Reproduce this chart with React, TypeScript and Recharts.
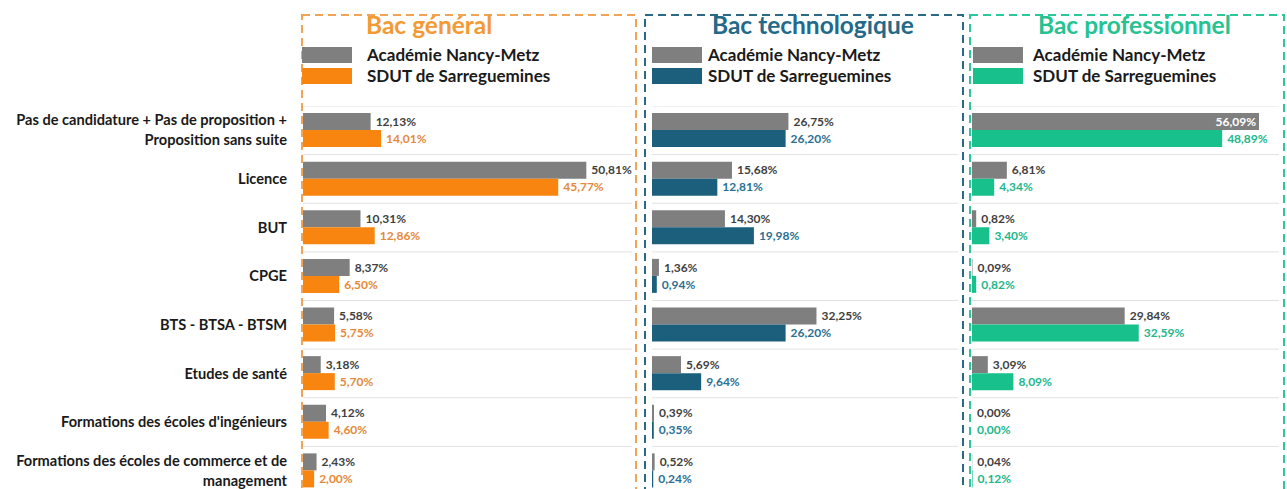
import { BarChart, Bar, XAxis, YAxis, CartesianGrid, LabelList } from 'recharts';

const categories = [
  'Pas de candidature + Pas de proposition + Proposition sans suite',
  'Licence',
  'BUT',
  'CPGE',
  'BTS - BTSA - BTSM',
  'Etudes de santé',
  "Formations des écoles d'ingénieurs",
  'Formations des écoles de commerce et de management',
];

// tick labels as they wrap on the left axis
const categoryLines = [
  ['Pas de candidature + Pas de proposition +', 'Proposition sans suite'],
  ['Licence'],
  ['BUT'],
  ['CPGE'],
  ['BTS - BTSA - BTSM'],
  ['Etudes de santé'],
  ["Formations des écoles d'ingénieurs"],
  ['Formations des écoles de commerce et de', 'management'],
];

const seriesNames = ['Académie Nancy-Metz', 'SDUT de Sarreguemines'];
const panelTitles = ['Bac général', 'Bac technologique', 'Bac professionnel'];

const generalAcademie = [12.13, 50.81, 10.31, 8.37, 5.58, 3.18, 4.12, 2.43];
const generalSdut = [14.01, 45.77, 12.86, 6.5, 5.75, 5.7, 4.6, 2.0];
const technoAcademie = [26.75, 15.68, 14.3, 1.36, 32.25, 5.69, 0.39, 0.52];
const technoSdut = [26.2, 12.81, 19.98, 0.94, 26.2, 9.64, 0.35, 0.24];
const proAcademie = [56.09, 6.81, 0.82, 0.09, 29.84, 3.09, 0.0, 0.04];
const proSdut = [48.89, 4.34, 3.4, 0.82, 32.59, 8.09, 0.0, 0.12];

const FONT = 'Lato, "Open Sans", sans-serif';
const GRAY = '#7f7f7f';
const GRAY_TEXT = '#3f3f3f';
const PLOT_TOP = 106;
const PLOT_HEIGHT = 389;
const AXIS_WIDTH = 303;

const panels = [
  {
    title: panelTitles[0],
    academie: generalAcademie,
    sdut: generalSdut,
    color: '#f7850f',
    labelColor: '#e5893a',
    titleColor: '#f39a35',
    border: '#f2a456',
    maxX: 59,
    plotLeft: 303,
    plotWidth: 329,
    boxLeft: 302,
    boxRight: 636,
    swatchLeft: 302,
    textLeft: 367,
    titleLeft: 366,
  },
  {
    title: panelTitles[1],
    academie: technoAcademie,
    sdut: technoSdut,
    color: '#1c5f7d',
    labelColor: '#2b7093',
    titleColor: '#236a8a',
    border: '#2b6a87',
    maxX: 60,
    plotLeft: 652,
    plotWidth: 306,
    boxLeft: 645,
    boxRight: 963,
    swatchLeft: 652,
    textLeft: 708,
    titleLeft: 712,
  },
  {
    title: panelTitles[2],
    academie: proAcademie,
    sdut: proSdut,
    color: '#18c08c',
    labelColor: '#21b78b',
    titleColor: '#27c291',
    border: '#2cc79a',
    maxX: 60,
    plotLeft: 972,
    plotWidth: 307,
    boxLeft: 970,
    boxRight: 1284,
    swatchLeft: 973,
    textLeft: 1033,
    titleLeft: 1038,
  },
];

function fmt(v: number) {
  return v.toFixed(2).replace('.', ',') + '%';
}

// grid lines between categories, not through them
function bandEdges(props: any): number[] {
  const scale = props?.yAxis?.scale;
  if (typeof scale === 'function' && typeof scale.bandwidth === 'function') {
    const starts = categories.map((c) => scale(c) as number);
    if (starts.every((s) => typeof s === 'number' && !isNaN(s))) {
      return [...starts, starts[starts.length - 1] + scale.bandwidth()];
    }
  }
  const { top, height } = props.offset;
  return categories.map((_, i) => top + (i * height) / categories.length).concat(top + height);
}

function CategoryTick(props: any) {
  const { x, y, payload } = props;
  const idx = categories.indexOf(payload.value);
  const lines = categoryLines[idx] ?? [payload.value];
  const lh = 20;
  const start = -((lines.length - 1) * lh) / 2;
  return (
    <text x={x} y={y} textAnchor="end" fontFamily={FONT} fontSize={14.6} fontWeight={700} fill="#1a1a1a">
      {lines.map((l, i) => (
        <tspan key={i} x={x} y={y + start + i * lh} dy="0.35em">
          {l}
        </tspan>
      ))}
    </text>
  );
}

function valueLabel(color: string, maxX: number) {
  return (props: any) => {
    const vb = props.viewBox ?? props;
    const x = vb.x ?? props.x;
    const y = vb.y ?? props.y;
    const w = vb.width ?? props.width ?? 0;
    const h = vb.height ?? props.height ?? 0;
    const v = Number(props.value);
    const inside = v > maxX * 0.9;
    return (
      <text
        x={inside ? x + w - 3 : x + w + 5}
        y={y + h / 2}
        dy="0.35em"
        textAnchor={inside ? 'end' : 'start'}
        fontFamily={FONT}
        fontSize={12}
        fontWeight={700}
        fill={inside ? '#ffffff' : color}
      >
        {fmt(v)}
      </text>
    );
  };
}

function Panel({ p, first }: { p: (typeof panels)[number]; first: boolean }) {
  const data = categories.map((name, i) => ({ name, academie: p.academie[i], sdut: p.sdut[i] }));
  const left = first ? 0 : p.plotLeft;
  const width = first ? p.plotLeft + p.plotWidth : p.plotWidth;
  return (
    <div style={{ position: 'absolute', left, top: PLOT_TOP, width, height: PLOT_HEIGHT }}>
      <BarChart
        layout="vertical"
        width={width}
        height={PLOT_HEIGHT}
        data={data}
        margin={{ top: 0, right: 0, bottom: 0, left: 0 }}
        barSize={17}
        barGap={0}
      >
        <CartesianGrid vertical={false} stroke="#e2e2e2" horizontalCoordinatesGenerator={bandEdges} />
        <XAxis type="number" domain={[0, p.maxX]} hide allowDataOverflow />
        {first ? (
          <YAxis
            type="category"
            dataKey="name"
            width={AXIS_WIDTH}
            axisLine={false}
            tickLine={false}
            tickSize={0}
            tickMargin={16}
            interval={0}
            tick={<CategoryTick />}
          />
        ) : (
          <YAxis type="category" dataKey="name" hide />
        )}
        <Bar dataKey="academie" name={seriesNames[0]} fill={GRAY} minPointSize={0.01} isAnimationActive={false}>
          <LabelList dataKey="academie" content={valueLabel(GRAY_TEXT, p.maxX)} />
        </Bar>
        <Bar dataKey="sdut" name={seriesNames[1]} fill={p.color} minPointSize={0.01} isAnimationActive={false}>
          <LabelList dataKey="sdut" content={valueLabel(p.labelColor, p.maxX)} />
        </Bar>
      </BarChart>
    </div>
  );
}

export default function App() {
  return (
    <div
      style={{
        position: 'absolute',
        left: 0,
        top: 0,
        width: 1287,
        height: 489,
        overflow: 'hidden',
        background: '#ffffff',
        fontFamily: FONT,
      }}
    >
      {panels.map((p, i) => (
        <Panel key={p.title} p={p} first={i === 0} />
      ))}
      <svg
        width={1287}
        height={489}
        style={{ position: 'absolute', left: 0, top: 0, pointerEvents: 'none' }}
      >
        {panels.map((p) => (
          <g key={p.title}>
            <rect
              x={p.boxLeft}
              y={15}
              width={p.boxRight - p.boxLeft}
              height={520}
              fill="none"
              stroke={p.border}
              strokeWidth={2}
              strokeDasharray="8 5"
            />
            <text x={p.titleLeft} y={34} fontFamily={FONT} fontSize={24.5} fontWeight={700} fill={p.titleColor}>
              {p.title}
            </text>
            <rect x={p.swatchLeft} y={47} width={50} height={16} fill={GRAY} />
            <rect x={p.swatchLeft} y={68} width={50} height={16} fill={p.color} />
            <text x={p.textLeft} y={55} dy="0.35em" fontFamily={FONT} fontSize={17} fontWeight={700} fill="#1a1a1a">
              {seriesNames[0]}
            </text>
            <text x={p.textLeft} y={76} dy="0.35em" fontFamily={FONT} fontSize={17} fontWeight={700} fill="#1a1a1a">
              {seriesNames[1]}
            </text>
          </g>
        ))}
      </svg>
    </div>
  );
}
